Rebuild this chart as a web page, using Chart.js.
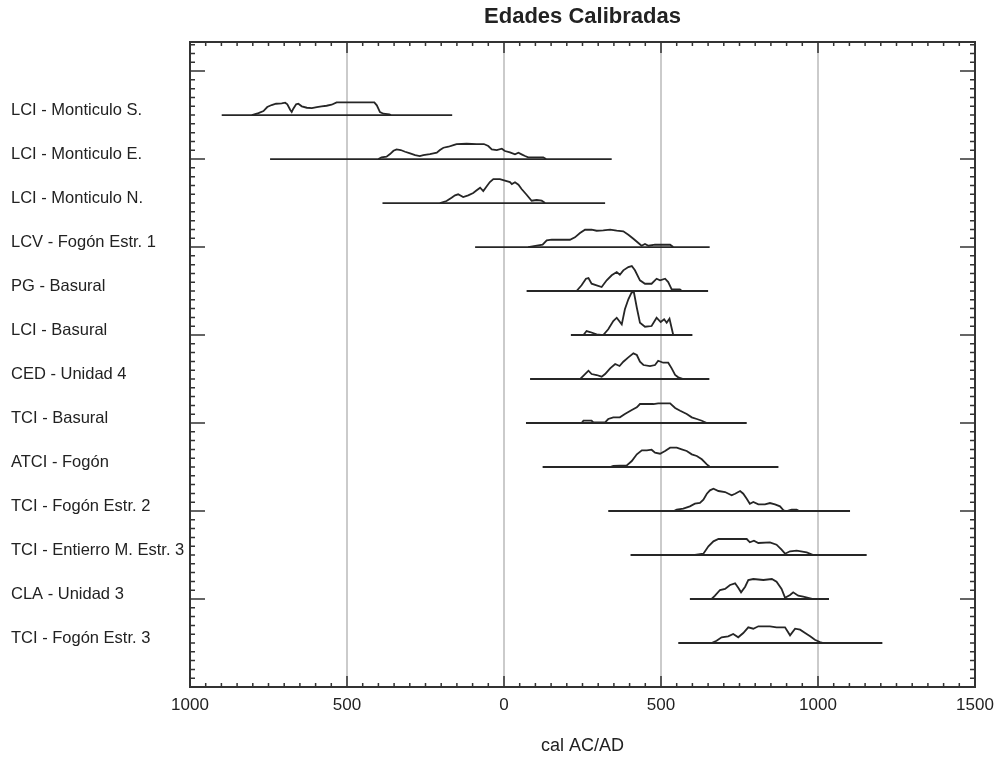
<!DOCTYPE html>
<html>
<head>
<meta charset="utf-8">
<title>Edades Calibradas</title>
<script src="https://cdn.jsdelivr.net/npm/chart.js@4.4.1/dist/chart.umd.min.js"></script>
<style>
  html, body { margin: 0; padding: 0; background: #fff; }
</style>
</head>
<body>
<canvas id="chart" width="995" height="757"></canvas>
<script>
// Sample names, top to bottom
const rowLabels = [
  'LCI - Monticulo S.', 'LCI - Monticulo E.', 'LCI - Monticulo N.', 'LCV - Fogón Estr. 1',
  'PG - Basural', 'LCI - Basural', 'CED - Unidad 4', 'TCI - Basural', 'ATCI - Fogón',
  'TCI - Fogón Estr. 2', 'TCI - Entierro M. Estr. 3', 'CLA - Unidad 3', 'TCI - Fogón Estr. 3'
];

// full extent of each calibrated range (cal years, negative = BC)
const rangeStart = [-899, -745, -387, -92, 72, 213, 83, 70, 123, 332, 403, 592, 555];
const rangeEnd   = [-165, 343, 322, 655, 650, 600, 654, 773, 874, 1102, 1155, 1035, 1205];

// probability curves (years / relative probability)
const distYears = [
  [-803,-782,-766,-754,-740,-726,-708,-697,-690,-681,-676,-671,-662,-655,-644,-628,-612,-596,-581,-565,-549,-533,-496,-413,-405,-395,-384,-365,-360],
  [-400,-390,-374,-363,-352,-342,-329,-315,-299,-283,-268,-257,-236,-214,-204,-193,-177,-161,-151,-119,-87,-64,-50,-39,-23,-7,3,19,35,46,56,67,77,125,134],
  [-204,-183,-167,-156,-146,-130,-114,-98,-87,-76,-66,-55,-45,-34,-13,3,19,25,35,46,56,72,88,104,120,131],
  [77,123,136,152,210,226,242,258,279,295,316,338,359,380,396,412,428,438,449,460,481,529,539],
  [231,247,261,269,279,295,311,327,343,359,369,380,396,407,417,433,449,470,486,497,513,523,534,560,566],
  [253,263,274,295,316,332,348,359,375,385,396,407,414,423,433,449,470,486,499,510,518,527,539],
  [242,255,269,279,295,311,322,338,354,368,380,396,412,423,433,444,465,481,491,507,523,534,545,555,571],
  [247,253,279,285,322,332,348,369,385,407,423,433,476,491,529,545,561,582,598,614,630,646],
  [338,348,391,407,423,439,455,470,481,497,513,529,550,566,582,598,614,630,646,656],
  [541,550,571,592,608,624,635,646,656,667,683,704,725,736,752,762,773,783,794,810,831,847,863,879,890,900,916,932,940],
  [608,635,651,667,683,773,783,796,810,847,868,884,895,911,932,964,985],
  [661,672,688,704,720,736,746,755,768,778,794,826,853,868,884,895,911,921,937,953,975,985],
  [661,677,693,714,730,746,762,778,794,810,847,868,895,911,927,943,959,975,990,1006,1017]
];
const distProb = [
  [0,2,4,8,10,11.3,11.7,12.3,10.7,5.3,3,6.3,10.7,11.3,8.7,7.3,7,8,8.7,9.3,10.3,12.7,12.7,12.7,9.7,3,1.3,0.7,0],
  [0,1.7,2.3,5,8.3,9.7,9,7.3,5.7,4,3,4,5,6.3,9,11.3,12.3,14,15,15.3,15,15,13,9.7,9,10.3,8,6.7,4.7,6.3,4.7,3,1.7,1.7,0],
  [0,2,5.3,7.7,8.7,6,7.7,10,12.7,15.3,12,16.7,21,24,24,22.5,21,19,20.7,18.3,14,8.3,2.3,3,2.3,0],
  [0,2.3,6.7,7.3,7.3,9.7,14,17.3,17.3,16.3,16.7,17.3,16.3,15.7,12.3,8.3,4,1.3,3,1.3,2.3,2.3,0],
  [0,5.7,12.3,13,7.3,5.7,4,10.7,15.7,19,16.3,20.7,24,25,20.7,10.7,7.3,7.3,12.3,10.7,12.3,9,1.7,1.7,0],
  [0,4,3,0.7,0,5.7,14,17.3,10.7,25.7,35.7,43,42.3,27.3,12.3,8.3,9,17.3,13,15.7,12.3,16.3,0],
  [0,4,8.3,5,4,2.3,5,10.7,15,13,17.3,21.7,25.7,24,17.3,14,13,14,18.3,16.3,16.3,10.7,4,1.7,0],
  [0,2.3,2.3,0.7,0.7,4,5.7,5.7,9,13,15.7,19,19,19.7,19.7,15,12.3,9,5.7,4,2.3,0],
  [0,1,1.7,6,12.7,16.7,16.7,17.3,14.3,13.3,16,19.3,19.3,17.7,16,12.7,11,7.7,2.7,0],
  [0,1.3,2.3,4.7,7.3,8,11.3,17.3,20.7,22.3,20,19,15.7,17.3,20,17.3,12.3,7.3,9,6.7,6.7,8,6.7,4.7,0.7,0,1.3,1.3,0],
  [0,1.3,8.7,13.7,16,16,12.7,14.3,12,12.7,10.3,5.3,1.3,3.7,4.3,2.7,0],
  [0,3.3,9,10,14,15.7,11.3,6.7,12.3,19,20,19,20,17.3,10,1.3,4,6.7,3.3,2.3,0.7,0],
  [0,2.3,5.7,6.7,9,5.7,10,15.7,14.3,16.7,16.7,15.7,15.7,7.7,14.3,13.3,10,6.7,3.3,1,0]
];

const xTicks = [-1000, -500, 0, 500, 1000, 1500];

const PROB_TO_ROW = 1 / 44;   // curve height in row units
const LINE = '#262626';
const TEXT = '#222';
const FONT = "'Liberation Sans', Arial, sans-serif";

// build datasets: one range line + one curve per row
const datasets = [];
rowLabels.forEach((name, r) => {
  datasets.push({
    label: name + ' range',
    data: [{ x: rangeStart[r], y: r }, { x: rangeEnd[r], y: r }],
    borderColor: LINE, borderWidth: 1.8
  });
  datasets.push({
    label: name,
    data: distYears[r].map((yr, i) => ({ x: yr, y: r - distProb[r][i] * PROB_TO_ROW })),
    borderColor: LINE, borderWidth: 1.8
  });
});

// frame + inward tick marks like the OxCal plot
const frameTicks = {
  id: 'frameTicks',
  afterDatasetsDraw(chart) {
    const { ctx, chartArea: a, scales: { x, y } } = chart;
    ctx.save();
    ctx.strokeStyle = '#333';
    ctx.lineWidth = 2;
    ctx.strokeRect(a.left, a.top, a.right - a.left, a.bottom - a.top);

    ctx.lineWidth = 1.5;
    ctx.beginPath();
    for (let v = -1000; v <= 1500; v += 50) {
      const px = x.getPixelForValue(v);
      const len = v % 500 === 0 ? 11 : 4;
      ctx.moveTo(px, a.top); ctx.lineTo(px, a.top + len);
      ctx.moveTo(px, a.bottom); ctx.lineTo(px, a.bottom - len);
    }
    for (let k = -8; k <= 65; k++) {
      const py = y.getPixelForValue(k / 5);
      const len = (k + 5) % 10 === 0 ? 15 : 5;
      ctx.moveTo(a.left, py); ctx.lineTo(a.left + len, py);
      ctx.moveTo(a.right, py); ctx.lineTo(a.right - len, py);
    }
    ctx.stroke();
    ctx.restore();
  }
};

new Chart(document.getElementById('chart'), {
  type: 'scatter',
  data: { datasets },
  options: {
    responsive: false,
    animation: false,
    showLine: true,
    elements: { point: { radius: 0 }, line: { tension: 0 } },
    layout: { padding: { left: 11, right: 20, top: 0, bottom: 0 } },
    plugins: {
      legend: { display: false },
      tooltip: { enabled: false },
      title: {
        display: true,
        text: 'Edades Calibradas',
        fullSize: false,
        color: TEXT,
        font: { family: FONT, size: 22, weight: 'bold' },
        padding: { top: 4, bottom: 11.6 }
      }
    },
    scales: {
      x: {
        type: 'linear', min: -1000, max: 1500,
        afterBuildTicks: s => { s.ticks = xTicks.map(v => ({ value: v })); },
        afterFit: s => { s.height = 70; s.paddingLeft = 0; s.paddingRight = 0; },
        grid: {
          color: c => (c.tick && (c.tick.value === -1000 || c.tick.value === 1500)) ? 'rgba(0,0,0,0)' : '#cbcbcb',
          lineWidth: 2,
          drawTicks: false
        },
        border: { display: false },
        ticks: {
          callback: v => Math.abs(v),
          padding: 8, maxRotation: 0, autoSkip: false,
          color: TEXT, font: { family: FONT, size: 17 }
        },
        title: {
          display: true, text: 'cal AC/AD', color: TEXT,
          font: { family: FONT, size: 18 }, padding: { top: 0, bottom: 0 }
        }
      },
      y: {
        type: 'linear', reverse: true, min: -1.66, max: 13,
        afterBuildTicks: s => { s.ticks = rowLabels.map((_, i) => ({ value: i })); },
        afterFit: s => { s.width = 179; s.paddingTop = 0; s.paddingBottom = 0; },
        grid: { display: false, drawTicks: false },
        border: { display: false },
        ticks: {
          callback: v => rowLabels[v],
          crossAlign: 'far', labelOffset: -5, padding: 0, autoSkip: false,
          color: TEXT, font: { family: FONT, size: 16.5 }
        }
      }
    }
  },
  plugins: [frameTicks]
});
</script>
</body>
</html>
